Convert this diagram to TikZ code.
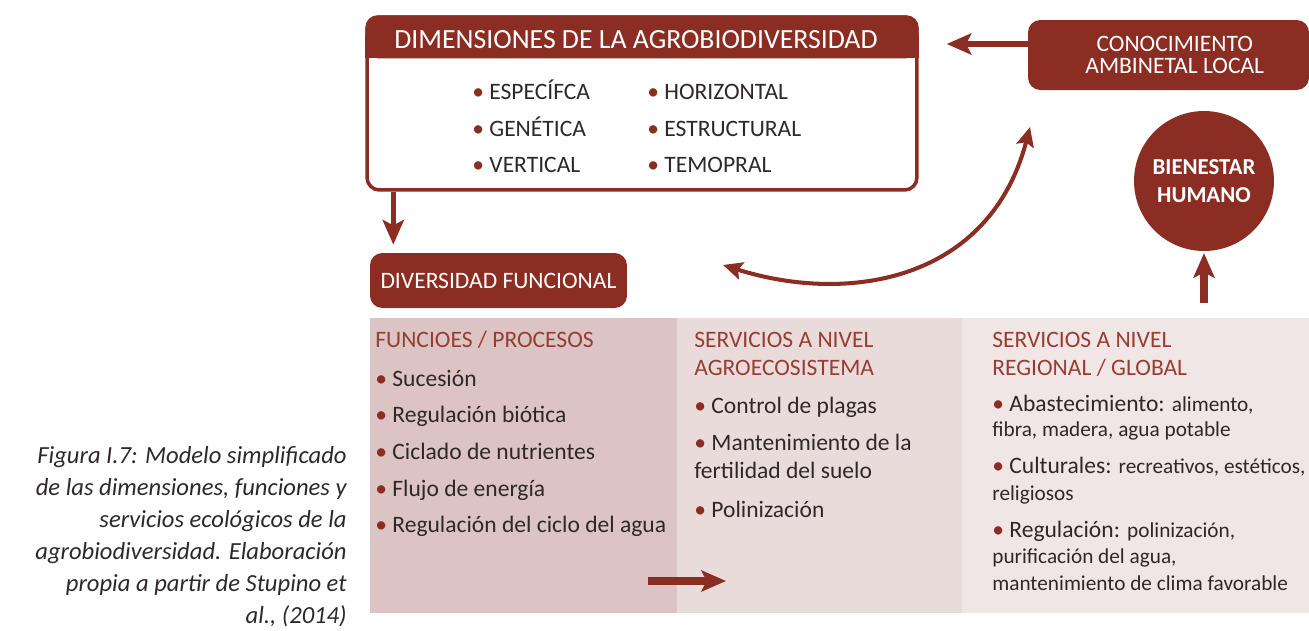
\documentclass[tikz,border=0pt]{standalone}
\usepackage{fontspec}
\setmainfont{Carlito}
\usetikzlibrary{arrows.meta,positioning,calc}
\definecolor{agro}{RGB}{139,45,34}
\definecolor{agrohead}{RGB}{150,62,52}
\definecolor{agrotext}{RGB}{48,40,40}
\definecolor{fun}{RGB}{219,196,195}
\definecolor{agroeco}{RGB}{234,219,219}
\definecolor{glob}{RGB}{241,230,230}
\tikzset{
  darkbox/.style={rectangle,rounded corners=7pt,fill=agro,draw=none,text=white,
    align=center,inner sep=0pt,font=\fontsize{13.4}{16}\selectfont},
  colbox/.style={rectangle,draw=none,anchor=north west,minimum height=5.9cm,
    inner sep=0pt},
  item/.style={anchor=base west,inner sep=0pt,text=agrotext,
    font=\fontsize{13.4}{16}\selectfont},
  colhead/.style={item,text=agrohead},
  arr/.style={-{Stealth[length=14pt,width=12pt,inset=3pt]},line width=3pt,agro},
  fatarr/.style={arr,line width=4pt},
  bendarr/.style={{Stealth[length=11pt,width=10pt,inset=2pt]}-{Stealth[length=11pt,width=10pt,inset=2pt]},
    line width=2.3pt,agro}
}
\newcommand{\bul}{{\color{agro}•}\ }
\newcommand{\sm}{\fontsize{12.1}{14}\selectfont}

\begin{document}
\begin{tikzpicture}[x=0.02cm,y=-0.02cm]
\useasboundingbox (0,0) rectangle (1309,630);
% ---------- caption ----------
\node[anchor=north east,align=right,inner sep=0pt,text=agrotext,
  font=\fontsize{14}{18.2}\selectfont\itshape] (cap) at (347,446)
  {Figura I.7: Modelo simplificado\\de las dimensiones, funciones y\\servicios ecológicos de la\\agrobiodiversidad. Elaboración\\propia a partir de Stupino et\\al., (2014)};
% ---------- dimensiones ----------
\node[draw=agro,line width=2pt,rounded corners=7pt,fill=white,
  minimum width=11cm,minimum height=3.46cm] (dim) at (642,103.5) {};
\fill[agro,rounded corners=7pt] (dim.north west) rectangle ([yshift=-0.86cm]dim.north east);
\fill[agro] ([yshift=-0.4cm]dim.north west) rectangle ([yshift=-0.86cm]dim.north east);
\node[text=white,inner sep=0pt,font=\fontsize{15.8}{18}\selectfont] (dimhead) at (636,40)
  {DIMENSIONES DE LA AGROBIODIVERSIDAD};
\foreach \a/\b [count=\i] in {ESPECÍFCA/HORIZONTAL,GENÉTICA/ESTRUCTURAL,VERTICAL/TEMOPRAL}{
  \node[item] (dl\i) at (472,{63+36.5*\i}) {\bul\a};
  \node[item] (dr\i) at (647,{63+36.5*\i}) {\bul\b};
}
% ---------- top right ----------
\node[darkbox,minimum width=5.62cm,minimum height=1.4cm,
  font=\fontsize{13.4}{12.6}\selectfont] (con) at (1168.5,55)
  {\hspace*{0.25cm}CONOCIMIENTO\\\hspace*{0.25cm}AMBINETAL LOCAL};
\node[circle,fill=agro,minimum size=2.8cm,inner sep=0pt,text=white,align=center,
  font=\fontsize{13}{16}\selectfont\bfseries] (bien) at (1204,181) {BIENESTAR\\HUMANO};
\node[darkbox,minimum width=5.14cm,minimum height=1.1cm] (divf) at (498.5,280.5)
  {DIVERSIDAD FUNCIONAL};
% ---------- panel ----------
\node[colbox,fill=fun,minimum width=6.14cm] (p1) at (370,318) {};
\node[colbox,fill=agroeco,minimum width=5.7cm] (p2) at (677,318) {};
\node[colbox,fill=glob,minimum width=6.94cm] (p3) at (962,318) {};
\node[colhead] (h1) at (375,347) {FUNCIOES / PROCESOS};
\foreach \t [count=\i] in {Sucesión,Regulación biótica,Ciclado de nutrientes,
  Flujo de energía,Regulación del ciclo del agua}
  \node[item] (f\i) at (375,{349.3+36.7*\i}) {\bul\t};
\node[colhead] (h2a) at (694,347) {SERVICIOS A NIVEL};
\node[colhead] (h2b) at (694,375) {AGROECOSISTEMA};
\foreach \y/\t [count=\i] in {413/{\bul Control de plagas},450/{\bul Mantenimiento de la},
  478/{fertilidad del suelo},517/{\bul Polinización}}
  \node[item] (s\i) at (694,\y) {\t};
\node[colhead] (h3a) at (992,347) {SERVICIOS A NIVEL};
\node[colhead] (h3b) at (992,375) {REGIONAL / GLOBAL};
\foreach \y/\t [count=\i] in {411.7/{\bul Abastecimiento: {\sm alimento,}},
  436.7/{\sm fibra, madera, agua potable},
  473/{\bul Culturales: {\sm recreativos, estéticos,}},
  500/{\sm religiosos},
  537/{\bul Regulación: {\sm polinización,}},
  563/{\sm purificación del agua,},
  590/{\sm mantenimiento de clima favorable}}
  \node[item] (g\i) at (992,\y) {\t};
% ---------- arrows ----------
\coordinate (pa) at (648,581);
\coordinate (pb) at (726,581);
\coordinate (bfoot) at (1204,303);
\draw[fatarr] (pa) -- (pb);
\draw[fatarr,shorten >=1pt] (bfoot) -- (bien.south);
\draw[arr,shorten >=0.16cm] ([xshift=0.56cm]dim.south west) -- ([xshift=0.56cm]dim.south west |- divf.north);
\draw[arr,shorten >=0.56cm] ([yshift=0.22cm]con.west) -- ([yshift=0.22cm]con.west -| dim.east);
\coordinate (cl) at (723,265);
\coordinate (cr) at (1030,127);
\draw[bendarr] (cl) .. controls (850,305) and (990,280) .. (cr);
\end{tikzpicture}
\end{document}
